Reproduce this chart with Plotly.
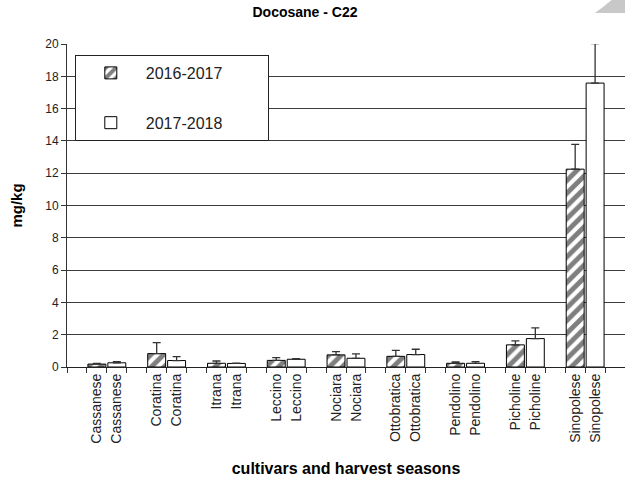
import plotly.graph_objects as go

# values (mg/kg)
cultivars = ["Cassanese", "Coratina", "Itrana", "Leccino", "Nociara",
             "Ottobratica", "Pendolino", "Picholine", "Sinopolese"]
season_1 = [0.18, 0.83, 0.23, 0.41, 0.75, 0.66, 0.23, 1.37, 12.25]
season_1_err = [0.05, 0.68, 0.14, 0.17, 0.20, 0.37, 0.08, 0.25, 1.53]
season_2 = [0.26, 0.40, 0.22, 0.48, 0.54, 0.77, 0.23, 1.76, 17.58]
season_2_err = [0.07, 0.24, 0.02, 0.03, 0.27, 0.33, 0.10, 0.66, 2.44]
season_names = ["2016-2017", "2017-2018"]

FONT = "Liberation Sans, Arial, sans-serif"
GRID = "#3c3c3c"
PAD = "\u00a0" * 9  # widens the legend box like the original

# each cultivar takes three slots: gap, first season, second season
x1 = [3 * i + 1 for i in range(len(cultivars))]
x2 = [3 * i + 2 for i in range(len(cultivars))]

fig = go.Figure()
fig.add_bar(
    name=season_names[0] + PAD,
    x=x1,
    y=season_1,
    width=0.9,
    marker=dict(
        color="white",
        line=dict(color="black", width=1),
        pattern=dict(shape="/", fgcolor="black", bgcolor="white", size=9, solidity=0.55),
    ),
    error_y=dict(type="data", array=season_1_err, symmetric=False,
                 arrayminus=[0] * len(season_1_err), color="#333333",
                 thickness=1.3, width=4),
    legendgroup="a",
)
fig.add_bar(
    name=season_names[1] + PAD,
    x=x2,
    y=season_2,
    width=0.9,
    marker=dict(color="white", line=dict(color="black", width=1)),
    error_y=dict(type="data", array=season_2_err, symmetric=False,
                 arrayminus=[0] * len(season_2_err), color="#333333",
                 thickness=1.3, width=4),
    legendgroup="b",
)

# grey corner mark in the top right of the page
fig.add_shape(
    type="path",
    xref="paper", yref="paper",
    path="M 0.946 1.096 L 1.0 1.096 L 1.0 1.136 L 0.976 1.136 Q 0.962 1.115 0.946 1.096 Z",
    fillcolor="#c8c8c8", line=dict(width=0), layer="above",
)

fig.update_layout(
    width=625,
    height=482,
    margin=dict(l=67, r=0, t=44, b=115),
    paper_bgcolor="white",
    plot_bgcolor="white",
    font=dict(family=FONT, color="#222222"),
    barmode="overlay",
    title=dict(
        text="<b>Docosane - C22</b>",
        x=0.488, xref="container", xanchor="center",
        y=1 - 12 / 482, yref="container", yanchor="middle",
        font=dict(size=14, color="black"),
    ),
    xaxis=dict(
        range=[-0.5, 27.5],
        tickmode="array",
        tickvals=x1 + x2,
        ticktext=cultivars + cultivars,
        tickangle=-90,
        ticks="",
        tickfont=dict(size=14, color="#222222"),
        showgrid=False,
        zeroline=False,
        showline=True,
        linecolor="#222222",
        linewidth=1,
        minor=dict(tickmode="linear", tick0=-0.5, dtick=1, ticks="outside",
                   ticklen=5, tickcolor="#333333", tickwidth=1, showgrid=False),
        title=dict(text="<b>cultivars and harvest seasons</b>",
                   font=dict(size=16, color="black"), standoff=20),
        automargin=False,
    ),
    yaxis=dict(
        range=[0, 20],
        dtick=2,
        ticks="outside",
        ticklen=5,
        tickcolor="#333333",
        tickfont=dict(size=12, color="#222222"),
        showgrid=True,
        gridcolor=GRID,
        gridwidth=1,
        zeroline=False,
        showline=True,
        linecolor="#333333",
        linewidth=1,
        title=dict(text="<b>mg/kg</b>", font=dict(size=15, color="black"), standoff=18),
        automargin=False,
    ),
    legend=dict(
        x=0.014, y=0.966, xanchor="left", yanchor="top",
        bgcolor="white",
        bordercolor="#222222",
        borderwidth=1,
        font=dict(size=16, color="#222222"),
        itemwidth=60,
        tracegroupgap=26,
    ),
)

# drop the default page margin so the figure sits at the window's corner
fig.write_html("out.html", config={"displayModeBar": False},
               post_script="document.body.style.margin='0';")
